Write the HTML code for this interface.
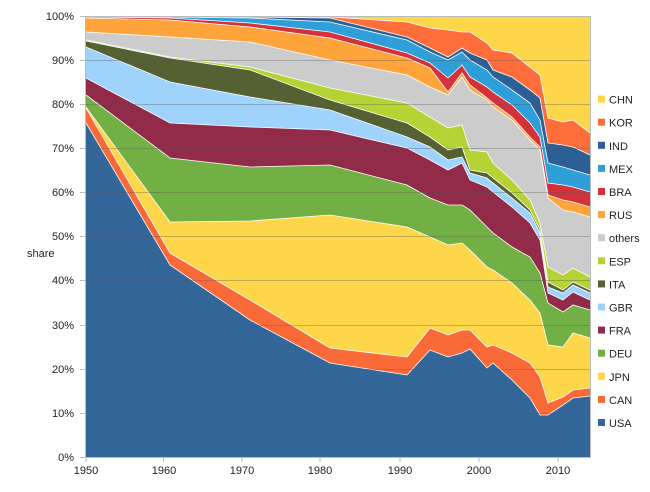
<!DOCTYPE html>
<html><head><meta charset="utf-8"><style>
body{margin:0;background:#fff;}
svg text{font-family:"Liberation Sans",sans-serif;font-size:11px;fill:#222;}
</style></head><body>
<svg id="s" width="650" height="487" xmlns="http://www.w3.org/2000/svg">
<g id="areas"></g>
<g stroke="#555" stroke-opacity="0.35" stroke-width="1">
<line x1="86" x2="590" y1="60.5" y2="60.5"/><line x1="86" x2="590" y1="104.5" y2="104.5"/>
<line x1="86" x2="590" y1="148.5" y2="148.5"/><line x1="86" x2="590" y1="192.5" y2="192.5"/>
<line x1="86" x2="590" y1="236.5" y2="236.5"/><line x1="86" x2="590" y1="280.5" y2="280.5"/>
<line x1="86" x2="590" y1="325.5" y2="325.5"/><line x1="86" x2="590" y1="369.5" y2="369.5"/>
<line x1="86" x2="590" y1="413.5" y2="413.5"/>
</g>
<g stroke="#bbb" stroke-width="1">
<line x1="85.5" y1="16" x2="85.5" y2="458"/><line x1="85" y1="457.5" x2="591" y2="457.5"/>
<line x1="590.5" y1="16" x2="590.5" y2="458"/><line x1="85" y1="16.5" x2="591" y2="16.5"/>
<line x1="80" x2="86" y1="16.5" y2="16.5"/><line x1="80" x2="86" y1="60.5" y2="60.5"/><line x1="80" x2="86" y1="104.5" y2="104.5"/><line x1="80" x2="86" y1="148.5" y2="148.5"/><line x1="80" x2="86" y1="192.5" y2="192.5"/><line x1="80" x2="86" y1="236.5" y2="236.5"/><line x1="80" x2="86" y1="280.5" y2="280.5"/><line x1="80" x2="86" y1="325.5" y2="325.5"/><line x1="80" x2="86" y1="369.5" y2="369.5"/><line x1="80" x2="86" y1="413.5" y2="413.5"/><line x1="80" x2="86" y1="457.5" y2="457.5"/>
<line x1="86" x2="86" y1="457" y2="462"/><line x1="163.5" x2="163.5" y1="457" y2="462"/><line x1="242" x2="242" y1="457" y2="462"/><line x1="320" x2="320" y1="457" y2="462"/><line x1="400" x2="400" y1="457" y2="462"/><line x1="479" x2="479" y1="457" y2="462"/><line x1="558" x2="558" y1="457" y2="462"/>
</g>
<g text-anchor="end">
<text x="74" y="20">100%</text><text x="74" y="64">90%</text><text x="74" y="108">80%</text><text x="74" y="152">70%</text><text x="74" y="196">60%</text><text x="74" y="240">50%</text><text x="74" y="284">40%</text><text x="74" y="329">30%</text><text x="74" y="373">20%</text><text x="74" y="417">10%</text><text x="74" y="461">0%</text>
</g>
<g text-anchor="middle">
<text x="86" y="474">1950</text><text x="164" y="474">1960</text><text x="242" y="474">1970</text><text x="320" y="474">1980</text><text x="400" y="474">1990</text><text x="479" y="474">2000</text><text x="558" y="474">2010</text>
</g>
<text x="27" y="257">share</text>
<g id="legend"></g>
</svg>
<script>
var xs=[86,170,250,330,407,430,448,462,470,487,493,512,530,540,548,563,573,590];
var L=[
["USA","#336699",[123,265,320,363,375,350,357,353,349,368,363,380,398,415,415,405,398,396]],
["CAN","#fa6a38",[108,253,300,348,357,328,335,330,330,347,345,353,363,377,403,397,390,388]],
["JPN","#fdd64a",[107,222,221,215,227,237,245,243,250,267,270,283,300,313,345,347,333,338]],
["DEU","#72b046",[95,158,167,165,185,198,205,205,210,227,233,247,257,273,303,312,305,310]],
["FRA","#922b4a",[78,123,127,130,148,160,170,163,180,187,192,207,223,240,293,300,292,300]],
["GBR","#9fd3fb",[47,82,97,110,137,147,160,157,173,178,183,198,213,233,287,293,285,293]],
["ITA","#556033",[41,58,70,100,123,137,150,147,170,173,178,193,210,230,282,290,282,290]],
["ESP","#b5d334",[40,57,67,88,103,117,128,125,150,152,163,180,200,223,267,275,268,277]],
["others","#cccccc",[32,37,42,60,75,87,95,77,90,100,107,120,140,150,198,210,212,217]],
["RUS","#ffa43b",[18,20,27,38,58,68,92,73,85,98,103,117,137,147,195,200,202,207]],
["BRA","#d4313b",[17,18,23,32,53,63,78,65,77,87,92,105,123,137,183,185,187,192]],
["MEX","#2e9fd8",[16.5,17,18,22,40,52,60,52,60,70,77,90,103,120,163,167,170,175]],
["IND","#2c5f96",[16.5,16.5,17,18,37,48,57,48,53,60,70,77,90,98,143,145,147,155]],
["KOR","#ff6e3a",[16,16.5,16.5,17,22,28,30,32,32,43,50,53,67,75,118,122,120,133]],
["CHN","#fdd64a",[16,16,16,16,16,16,16,16,16,16,16,16,16,16,16,16,16,16]]
];
var ns="http://www.w3.org/2000/svg",g=document.getElementById("areas");
for(var i=L.length-1;i>=0;i--){
 var y=L[i][2],p="";
 for(var k=0;k<xs.length;k++)p+=xs[k]+","+y[k]+" ";
 p+="590,457 86,457";
 var e=document.createElementNS(ns,"polygon");e.setAttribute("points",p);e.setAttribute("fill",L[i][1]);g.appendChild(e);
 if(i<L.length-1){var l=document.createElementNS(ns,"polyline");var q="";for(var k=0;k<xs.length;k++)q+=xs[k]+","+y[k]+" ";
 l.setAttribute("points",q);l.setAttribute("fill","none");l.setAttribute("stroke","#fff");l.setAttribute("stroke-width","0.8");g.appendChild(l);}
}
var lg=document.getElementById("legend");
for(var i=0;i<L.length;i++){
 var yy=423-i*23.1;
 var r=document.createElementNS(ns,"rect");r.setAttribute("x",598);r.setAttribute("y",yy-4);r.setAttribute("width",7);r.setAttribute("height",7);r.setAttribute("fill",L[i][1]);lg.appendChild(r);
 var t=document.createElementNS(ns,"text");t.setAttribute("x",609);t.setAttribute("y",yy+4);t.textContent=L[i][0];lg.appendChild(t);
}
</script>
</body></html>
